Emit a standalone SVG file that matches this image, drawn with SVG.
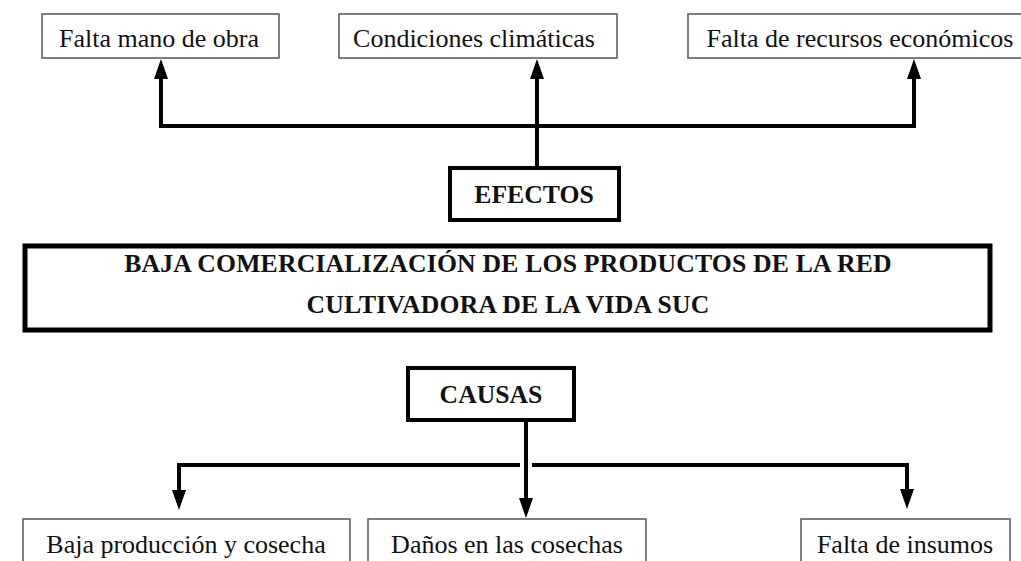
<svg xmlns="http://www.w3.org/2000/svg" width="1021" height="561" viewBox="0 0 1021 561">
<style>
.thin{fill:#fff;stroke:#555;stroke-width:1.5}
.thick{fill:#fff;stroke:#000;stroke-width:4}
.reg{font-family:"Liberation Serif","Times New Roman",serif;font-size:26px;fill:#111;text-anchor:middle}
.bold{font-family:"Liberation Serif","Times New Roman",serif;font-size:25.7px;font-weight:bold;fill:#111;text-anchor:middle}
.conn{fill:none;stroke:#000;stroke-width:4}
</style>
<defs>
<marker id="ah" markerUnits="userSpaceOnUse" markerWidth="20" markerHeight="14" refX="0" refY="7" orient="auto">
<path d="M0,0 L20,7 L0,14 z" fill="#000"/>
</marker>
</defs>
<rect width="1021" height="561" fill="#fff"/>
<g id="connectors">
<path class="conn" d="M161,126 H914"/>
<path class="conn" d="M161,128 V79" marker-end="url(#ah)"/>
<path class="conn" d="M537,168 V79" marker-end="url(#ah)"/>
<path class="conn" d="M914,128 V79" marker-end="url(#ah)"/>
<path class="conn" d="M179,465 H907"/>
<line x1="526" y1="458" x2="526" y2="472" stroke="#fff" stroke-width="12"/>
<path class="conn" d="M526,420 V498" marker-end="url(#ah)"/>
<path class="conn" d="M179,463 V490" marker-end="url(#ah)"/>
<path class="conn" d="M907,463 V489" marker-end="url(#ah)"/>
</g>
<g id="e1"><rect class="thin" x="42" y="14" width="237" height="44"/><text class="reg" x="159" y="47">Falta mano de obra</text></g>
<g id="e2"><rect class="thin" x="339" y="14" width="278" height="44"/><text class="reg" x="474" y="47">Condiciones climáticas</text></g>
<g id="e3"><rect class="thin" x="688" y="14" width="345" height="44"/><text class="reg" x="860" y="47">Falta de recursos económicos</text></g>
<g id="efectos"><rect class="thick" x="450" y="168" width="169" height="52"/><text class="bold" x="534" y="203">EFECTOS</text></g>
<g id="problema"><rect fill="#fff" stroke="#000" stroke-width="5" x="25" y="246" width="965" height="84"/>
<text class="bold" x="508" y="272" letter-spacing="0.2">BAJA COMERCIALIZACIÓN DE LOS PRODUCTOS DE LA RED</text>
<text class="bold" x="508" y="313" letter-spacing="0.2">CULTIVADORA DE LA VIDA SUC</text></g>
<g id="causas"><rect class="thick" x="408" y="368" width="166" height="52"/><text class="bold" x="491" y="403">CAUSAS</text></g>
<g id="c1"><rect class="thin" x="23" y="519" width="327" height="60"/><text class="reg" x="186" y="553">Baja producción y cosecha</text></g>
<g id="c2"><rect class="thin" x="368" y="519" width="278" height="60"/><text class="reg" x="507" y="553">Daños en las cosechas</text></g>
<g id="c3"><rect class="thin" x="801" y="519" width="209" height="60"/><text class="reg" x="905" y="553">Falta de insumos</text></g>
</svg>
